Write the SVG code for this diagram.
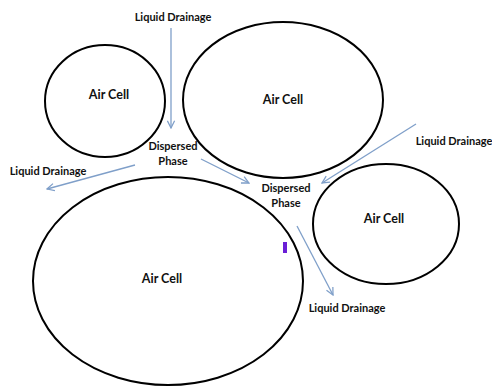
<svg xmlns="http://www.w3.org/2000/svg" width="492" height="390" viewBox="0 0 492 390">
<style>
.cell{fill:none;stroke:#000;stroke-width:2}
.lbl{font-family:Lato,"Liberation Sans",sans-serif;font-weight:bold;font-size:12.5px;fill:#111;text-anchor:middle}
.sm{font-size:11px}
.arr{stroke:#7f9fc9;stroke-width:1.3;fill:none;marker-end:url(#ah)}
</style>
<defs>
<marker id="ah" viewBox="0 0 10 10" refX="9" refY="5" markerWidth="9" markerHeight="9" markerUnits="userSpaceOnUse" orient="auto">
<path d="M1,1 L9,5 L1,9" fill="none" stroke="#7f9fc9" stroke-width="1.4"/>
</marker>
</defs>
<rect width="492" height="390" fill="#fff"/>
<g id="cell1"><ellipse class="cell" cx="105" cy="101" rx="60" ry="56"/><text class="lbl" x="109" y="99">Air Cell</text></g>
<g id="cell2"><ellipse class="cell" cx="283" cy="100" rx="100" ry="78"/><text class="lbl" x="283" y="104">Air Cell</text></g>
<g id="cell3"><ellipse class="cell" cx="386" cy="224" rx="73" ry="60"/><text class="lbl" x="384" y="223">Air Cell</text></g>
<g id="cell4"><ellipse class="cell" cx="168" cy="281" rx="135" ry="104"/><text class="lbl" x="162" y="283">Air Cell</text></g>
<rect id="mark" x="283" y="242" width="4" height="11" fill="#6a1fd6"/>
<g id="phase1"><text class="lbl sm" x="173" y="150">Dispersed</text><text class="lbl sm" x="173" y="165">Phase</text></g>
<g id="phase2"><text class="lbl sm" x="286" y="192">Dispersed</text><text class="lbl sm" x="286" y="207">Phase</text></g>
<g id="drain-top"><text class="lbl sm" x="173" y="21">Liquid Drainage</text></g>
<g id="drain-left"><text class="lbl sm" x="48" y="175">Liquid Drainage</text></g>
<g id="drain-right"><text class="lbl sm" x="454" y="145">Liquid Drainage</text></g>
<g id="drain-bottom"><text class="lbl sm" x="347" y="312">Liquid Drainage</text></g>
<g id="connectors">
<line class="arr" x1="171" y1="28" x2="171" y2="128"/>
<line class="arr" x1="135" y1="165" x2="47" y2="189"/>
<line class="arr" x1="201" y1="159" x2="249" y2="183"/>
<line class="arr" x1="416" y1="124" x2="322" y2="183"/>
<line class="arr" x1="297" y1="226" x2="333" y2="295"/>
</g>
</svg>
